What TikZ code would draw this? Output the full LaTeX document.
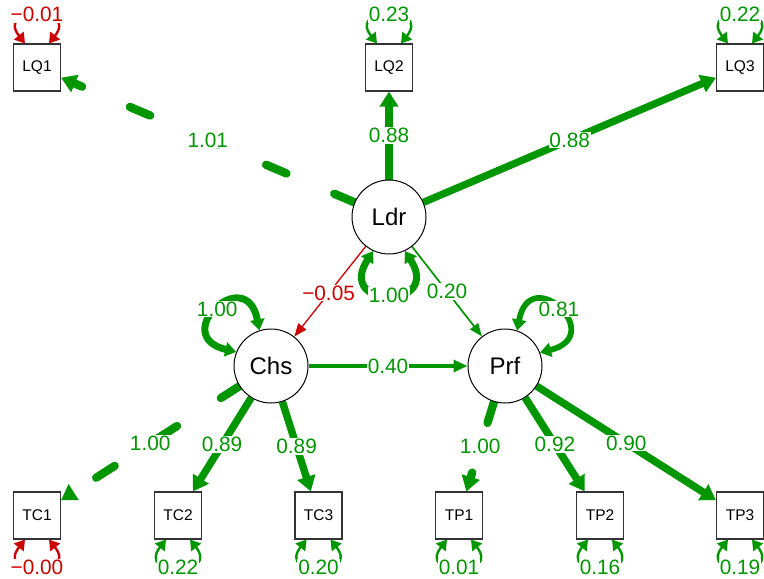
\documentclass[tikz,border=0pt]{standalone}
\usepackage{fontspec}
\setmainfont{Liberation Sans}
\usetikzlibrary{arrows.meta,calc}
\definecolor{posgreen}{RGB}{0,150,0}
\definecolor{negred}{RGB}{204,0,0}
\pgfdeclarelayer{edges}
\pgfsetlayers{edges,main}

\tikzset{
  manifest/.style={rectangle, draw=black!80, fill=white, line width=1.1pt,
    minimum size=47pt, inner sep=0pt, font=\fontsize{15.5}{18}\selectfont},
  latent/.style={circle, draw=black, fill=white, line width=1pt,
    minimum size=74pt, inner sep=0pt, font=\fontsize{24}{27}\selectfont},
  lbl/.style={fill=white, inner sep=0.8pt, font=\fontsize{20.8}{23}\selectfont},
  bigtip/.style={-{Triangle[length=15pt,width=18pt]}},
  midtip/.style={-{Triangle[length=14pt,width=12pt]}},
  thintip/.style={-{Triangle[length=13pt,width=10pt]}},
  fixedload/.style={dash pattern=on 22pt off 52pt, line cap=round},
  resarc/.style={line width=2.4pt,
    {Triangle[length=10pt,width=12pt]}-{Triangle[length=10pt,width=12pt]}},
  varloop/.style={{Triangle[length=11pt,width=14pt]}-{Triangle[length=11pt,width=14pt]}},
}

% residual variance arcs above / below an indicator box
\newcommand{\resup}[3]{%
  \draw[resarc,#2] ($(#1.north)+(-12pt,0pt)$)
    .. controls ($(#1.north)+(-42pt,38pt)$) and ($(#1.north)+(42pt,38pt)$)
    .. ($(#1.north)+(12pt,0pt)$);
  \node[lbl,text=#2] (#1-res) at ($(#1.north)+(0pt,29pt)$) {#3};}
\newcommand{\resdown}[3]{%
  \draw[resarc,#2] ($(#1.south)+(-12pt,0pt)$)
    .. controls ($(#1.south)+(-42pt,-38pt)$) and ($(#1.south)+(42pt,-38pt)$)
    .. ($(#1.south)+(12pt,0pt)$);
  \node[lbl,text=#2] (#1-res) at ($(#1.south)+(0pt,-28pt)$) {#3};}

\begin{document}
\begin{tikzpicture}[x=1pt,y=-1pt]
\useasboundingbox (0,0) rectangle (764,579);

% latent variables
\node[latent] (Ldr) at (389,217) {Ldr};
\node[latent] (Chs) at (271,366) {Chs};
\node[latent] (Prf) at (505,366) {Prf};

% indicators
\node[manifest] (LQ1) at (37,67.5) {LQ1};
\node[manifest] (LQ2) at (389,67.5) {LQ2};
\node[manifest] (LQ3) at (740,67.5) {LQ3};
\node[manifest] (TC1) at (37,515.5) {TC1};
\node[manifest] (TC2) at (178,515.5) {TC2};
\node[manifest] (TC3) at (318.5,515.5) {TC3};
\node[manifest] (TP1) at (459,515.5) {TP1};
\node[manifest] (TP2) at (600,515.5) {TP2};
\node[manifest] (TP3) at (740,515.5) {TP3};

\begin{pgfonlayer}{edges}
% loadings
\draw[posgreen, line width=8.4pt, fixedload, bigtip] (Ldr) -- (LQ1)
  node[lbl, pos=0.5, text=posgreen] (eLQ1) {1.01};
\draw[posgreen, line width=7.3pt, bigtip] (Ldr) -- (LQ2)
  node[lbl, pos=0.5, text=posgreen] (eLQ2) {0.88};
\draw[posgreen, line width=7.3pt, bigtip] (Ldr) -- (LQ3)
  node[lbl, pos=0.5, text=posgreen] (eLQ3) {0.88};
\draw[posgreen, line width=8.3pt, fixedload, bigtip] (Chs) -- (TC1)
  node[lbl, pos=0.5, text=posgreen] (eTC1) {1.00};
\draw[posgreen, line width=7.4pt, bigtip] (Chs) -- (TC2)
  node[lbl, pos=0.5, text=posgreen] (eTC2) {0.89};
\draw[posgreen, line width=7.4pt, bigtip] (Chs) -- (TC3)
  node[lbl, pos=0.5, text=posgreen] (eTC3) {0.89};
\draw[posgreen, line width=8.3pt, fixedload, bigtip] (Prf) -- (TP1)
  node[lbl, pos=0.5, text=posgreen] (eTP1) {1.00};
\draw[posgreen, line width=7.6pt, bigtip] (Prf) -- (TP2)
  node[lbl, pos=0.5, text=posgreen] (eTP2) {0.92};
\draw[posgreen, line width=7.5pt, bigtip] (Prf) -- (TP3)
  node[lbl, pos=0.5, text=posgreen] (eTP3) {0.90};

% structural paths
\draw[negred, line width=1.3pt, thintip] (Ldr) -- (Chs)
  node[lbl, pos=0.52, text=negred] (eLC) {−0.05};
\draw[posgreen, line width=1.7pt, thintip] (Ldr) -- (Prf)
  node[lbl, pos=0.5, text=posgreen] (eLP) {0.20};
\draw[posgreen, line width=3.3pt, midtip] (Chs) -- (Prf)
  node[lbl, pos=0.5, text=posgreen] (eCP) {0.40};

% latent variances
\draw[varloop, posgreen, line width=7pt] (Ldr.-115)
  .. controls ($(Ldr)+(-120.1:107.5pt)$) and ($(Ldr)+(-59.9:107.5pt)$) .. (Ldr.-65)
  node[lbl, pos=0.5, text=posgreen] (vLdr) {1.00};
\draw[varloop, posgreen, line width=7pt] (Chs.108.5)
  .. controls ($(Chs)+(103.4:107.5pt)$) and ($(Chs)+(163.6:107.5pt)$) .. (Chs.158.5)
  node[lbl, pos=0.5, text=posgreen] (vChs) {1.00};
\draw[varloop, posgreen, line width=5.8pt] (Prf.21.5)
  .. controls ($(Prf)+(16.4:107.5pt)$) and ($(Prf)+(76.6:107.5pt)$) .. (Prf.71.5)
  node[lbl, pos=0.5, text=posgreen] (vPrf) {0.81};

% residual variances
\resup{LQ1}{negred}{−0.01}
\resup{LQ2}{posgreen}{0.23}
\resup{LQ3}{posgreen}{0.22}
\resdown{TC1}{negred}{−0.00}
\resdown{TC2}{posgreen}{0.22}
\resdown{TC3}{posgreen}{0.20}
\resdown{TP1}{posgreen}{0.01}
\resdown{TP2}{posgreen}{0.16}
\resdown{TP3}{posgreen}{0.19}
\end{pgfonlayer}
\end{tikzpicture}
\end{document}
